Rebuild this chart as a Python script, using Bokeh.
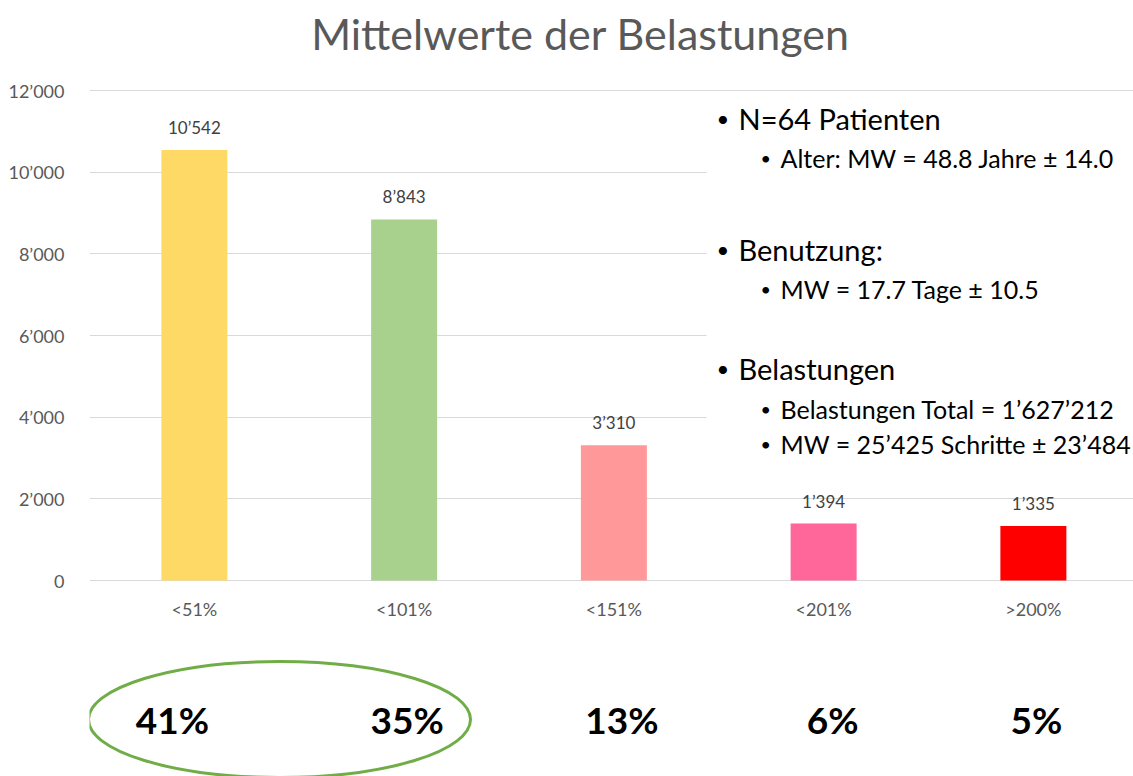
from bokeh.plotting import figure
from bokeh.models import Range1d, FixedTicker, ColumnDataSource, LabelSet, Label, BoxAnnotation
from bokeh.core.properties import value
from bokeh.embed import file_html
from bokeh.resources import INLINE

# ---------------- data ----------------
categories = ["<51%", "<101%", "<151%", "<201%", ">200%"]
means = [10542, 8843, 3310, 1394, 1335]
value_labels = ["10’542", "8’843", "3’310", "1’394", "1’335"]
shares = ["41%", "35%", "13%", "6%", "5%"]
bar_colors = ["#FFD966", "#A9D18E", "#FF9999", "#FF6699", "#FF0000"]
y_ticks = [0, 2000, 4000, 6000, 8000, 10000, 12000]
y_tick_labels = ["0", "2’000", "4’000", "6’000", "8’000", "10’000", "12’000"]
title_text = "Mittelwerte der Belastungen"
notes = [
    (0, "N=64 Patienten"),
    (1, "Alter: MW = 48.8 Jahre ± 14.0"),
    (0, "Benutzung:"),
    (1, "MW = 17.7 Tage ± 10.5"),
    (0, "Belastungen"),
    (1, "Belastungen Total = 1’627’212"),
    (1, "MW = 25’425 Schritte ± 23’484"),
]

# ---------------- layout ----------------
W, H = 1133, 776
LEFT = 89            # frame left edge (px)
BASE_PX = 580        # pixel row of value 0
PX_PER_UNIT = 490 / 12000
CAT_PX = 209.75      # width of one category (px)
FONT = "Lato"
share_nudge_px = [-22, 3, 8, 9, 3]   # horizontal nudges of the share labels

def xd(px):
    return (px - LEFT) / CAT_PX

def yd(py):
    return (BASE_PX - py) / PX_PER_UNIT

p = figure(width=W, height=H, output_backend="svg", toolbar_location=None,
           x_range=Range1d(0, xd(W)), y_range=Range1d(yd(H), yd(0)),
           x_axis_location=None, min_border_left=LEFT, min_border_right=0,
           min_border_top=0, min_border_bottom=0)
p.outline_line_color = None
p.background_fill_color = "white"
p.border_fill_color = "white"
p.xgrid.visible = False
p.ygrid.ticker = FixedTicker(ticks=y_ticks)
p.ygrid.grid_line_color = "#D9D9D9"
p.ygrid.grid_line_width = 1

ax = p.yaxis[0]
ax.ticker = FixedTicker(ticks=y_ticks)
ax.major_label_overrides = {t: l for t, l in zip(y_ticks, y_tick_labels)}
ax.axis_line_color = None
ax.major_tick_line_color = None
ax.minor_tick_line_color = None
ax.major_label_standoff = 19
ax.major_label_text_font = FONT
ax.major_label_text_font_size = "18px"
ax.major_label_text_color = "#595959"

xs = [i + 0.5 for i in range(len(categories))]
src = ColumnDataSource(dict(x=xs, top=means, cat=categories, lab=value_labels,
                            share=shares, color=bar_colors, nudge=share_nudge_px,
                            zero=[0] * len(xs), pct_y=[yd(719)] * len(xs)))

p.vbar(x="x", top="top", width=66 / CAT_PX, fill_color="color", line_color=None, source=src)

p.add_layout(LabelSet(x="x", y="top", text="lab", source=src, text_align="center",
                      text_baseline="bottom", y_offset=12, text_font=value(FONT),
                      text_font_size=value("17px"), text_color="#404040"))
p.add_layout(LabelSet(x="x", y="zero", text="cat", source=src, text_align="center",
                      text_baseline="middle", y_offset=-28, text_font=value(FONT),
                      text_font_size=value("18px"), text_color="#595959"))
p.add_layout(LabelSet(x="x", y="pct_y", text="share", source=src, text_align="center",
                      x_offset="nudge",
                      text_baseline="middle", text_font=value(FONT),
                      text_font_style=value("bold"),
                      text_font_size=value("37px"), text_color="#000000"))

# highlight ellipse around first two shares
p.ellipse(x=xd(279), y=yd(719), width=382, height=116, width_units="screen",
          height_units="screen", fill_color=None, line_color="#70AD47", line_width=3)

# white text box on the right
p.add_layout(BoxAnnotation(left=xd(706), right=xd(W), top=yd(100), bottom=yd(470),
                           fill_color="white", fill_alpha=1, line_color=None))

note_rows = [118, 157, 249, 288, 368, 408, 443]
for (lvl, txt), row in zip(notes, note_rows):
    bx, tx = (716, 738) if lvl == 0 else (760, 780)
    size = "29px" if lvl == 0 else "25px"
    bsize = "22px" if lvl == 0 else "18px"
    p.add_layout(Label(x=xd(bx), y=yd(row), text="•", text_font=FONT, text_font_size=bsize,
                       text_baseline="middle", text_align="left", text_color="#000000"))
    p.add_layout(Label(x=xd(tx), y=yd(row), text=txt, text_font=FONT, text_font_size=size,
                       text_baseline="middle", text_align="left", text_color="#000000"))

p.add_layout(Label(x=xd(580), y=yd(33), text=title_text, text_font=FONT,
                   text_font_size="43px", text_align="center", text_baseline="middle",
                   text_color="#595959"))

open("out.html", "w").write(file_html(p, INLINE))
